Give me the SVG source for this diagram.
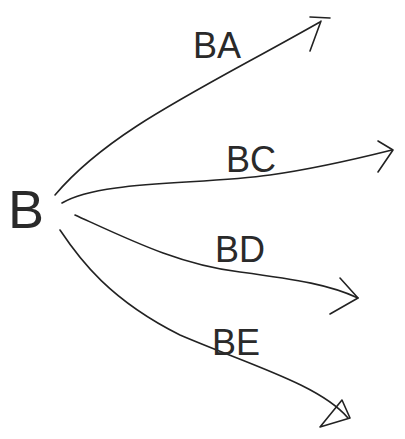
<svg xmlns="http://www.w3.org/2000/svg" width="405" height="439" viewBox="0 0 405 439">
<style>
.c{fill:none;stroke:#222;stroke-width:1.6;stroke-linecap:round;stroke-linejoin:round}
.t{font-family:"Liberation Sans",Arial,sans-serif;fill:#2a2a2a;font-weight:normal}
.lbl{font-size:36px}
.big{font-size:54px}
</style>
<rect width="405" height="439" fill="#fff"/>
<g id="node-B"><text class="t big" x="8" y="228">B</text></g>
<g id="connectors">
<g id="edge-BA">
<path class="c" d="M55,195 C110,130 200,90 320,22"/>
<path class="c" d="M310,17 L330,18 M321,21 L310,51"/>
</g>
<g id="edge-BC">
<path class="c" d="M62,203 C100,180 200,185 270,175 C320,168 360,158 392,150"/>
<path class="c" d="M378,141 L393,150 L378,172"/>
</g>
<g id="edge-BD">
<path class="c" d="M75,215 C130,240 180,265 240,272 C300,280 330,285 358,298"/>
<path class="c" d="M340,278 L358,298 L330,314"/>
</g>
<g id="edge-BE">
<path class="c" d="M60,230 C80,260 110,300 180,335 C250,365 320,385 348,418"/>
<path class="c" d="M320,427 L350,418 L342,400 Z"/>
</g>
</g>
<g id="label-BA"><text class="t lbl" x="193" y="58">BA</text></g>
<g id="label-BC"><text class="t lbl" x="226" y="172">BC</text></g>
<g id="label-BD"><text class="t lbl" x="215" y="262">BD</text></g>
<g id="label-BE"><text class="t lbl" x="212" y="355">BE</text></g>
</svg>
